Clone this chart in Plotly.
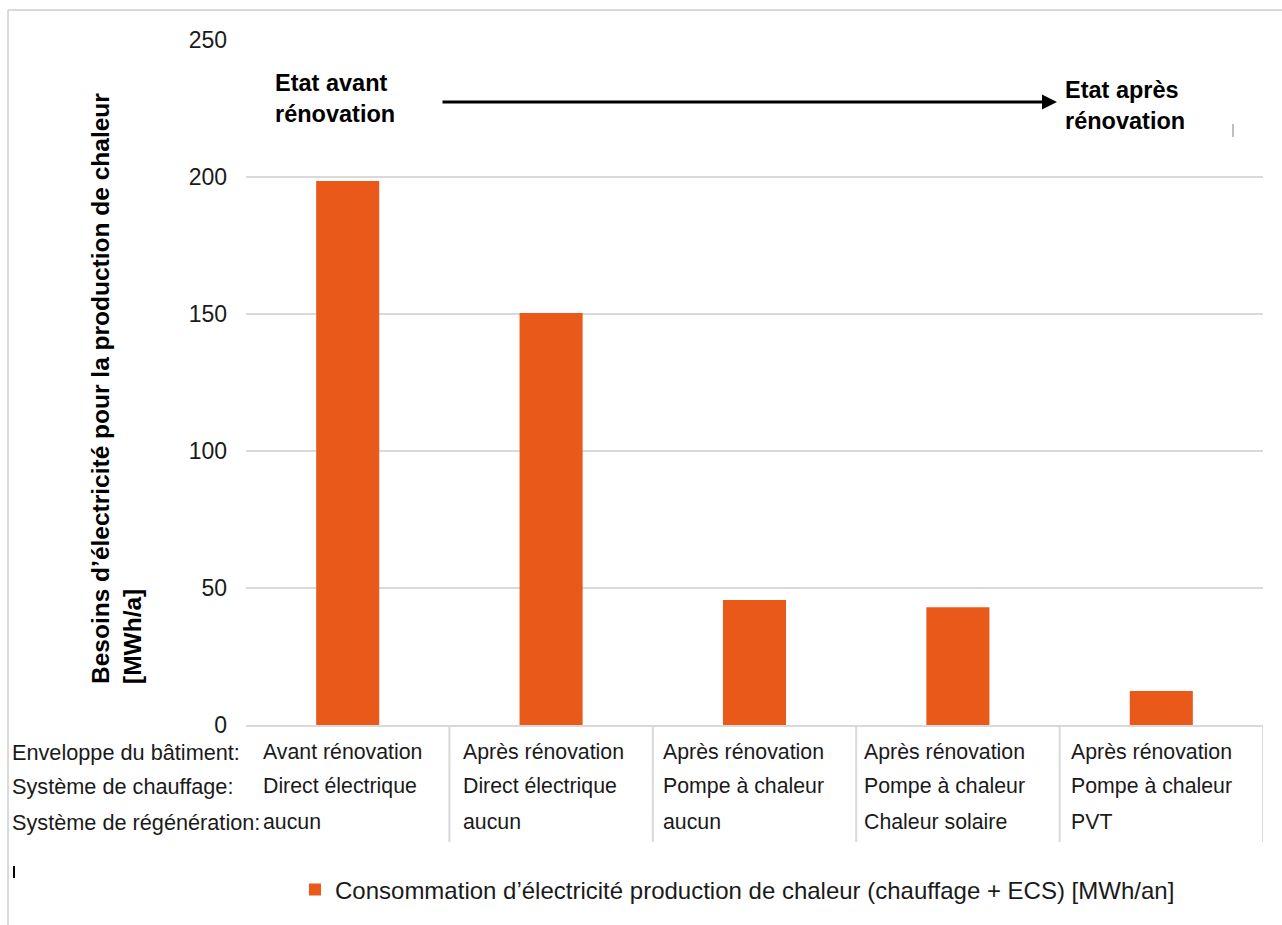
import plotly.graph_objects as go

# ---- data ----
scenarios = ["S1", "S2", "S3", "S4", "S5"]
consumption = [198.5, 150.4, 45.6, 43.0, 12.4]
row_labels = ["Enveloppe du bâtiment:", "Système de chauffage:", "Système de régénération:"]
enveloppe = ["Avant rénovation", "Après rénovation", "Après rénovation", "Après rénovation", "Après rénovation"]
chauffage = ["Direct électrique", "Direct électrique", "Pompe à chaleur", "Pompe à chaleur", "Pompe à chaleur"]
regeneration = ["aucun", "aucun", "aucun", "Chaleur solaire", "PVT"]
y_ticks = [0, 50, 100, 150, 200, 250]
series_name = "Consommation d’électricité production de chaleur (chauffage + ECS) [MWh/an]"
y_title = "Besoins d’électricité pour la production de chaleur<br>[MWh/a]"

ORANGE = "#E8591A"
GRID = "#D9D9D9"
TXT = "#1a1a1a"
FONT = "Liberation Sans, Arial, sans-serif"

W, H = 1282, 925
L, R, T, B = 246, 19, 40, 200
PW, PH = W - L - R, H - T - B

def px_x(p):
    return (p - L) / PW

def px_y(p):
    return (H - B - p) / PH

xs = list(range(len(scenarios)))

fig = go.Figure()
fig.add_trace(go.Bar(
    x=xs, y=consumption, width=0.31, name=series_name,
    marker=dict(color=ORANGE, line=dict(width=0)),
    showlegend=True,
))

ann = []
# y title (rotated)
ann.append(dict(text="<b>" + y_title.replace("<br>", "</b><br><b>") + "</b>",
                xref="paper", yref="paper", x=px_x(116), y=px_y(389),
                xanchor="center", yanchor="middle", textangle=-90, align="left",
                showarrow=False, font=dict(size=24.5, color="#000", family=FONT)))
# top labels
ann.append(dict(text="<b>Etat avant</b><br><b>rénovation</b>", xref="paper", yref="paper",
                x=px_x(273), y=px_y(99), xanchor="left", yanchor="middle", align="left",
                showarrow=False, font=dict(size=23.5, color="#000", family=FONT)))
ann.append(dict(text="<b>Etat après</b><br><b>rénovation</b>", xref="paper", yref="paper",
                x=px_x(1063), y=px_y(105), xanchor="left", yanchor="middle", align="left",
                showarrow=False, font=dict(size=23.5, color="#000", family=FONT)))
# arrow
ann.append(dict(text="", xref="paper", yref="paper", axref="pixel", ayref="pixel",
                x=px_x(1057), y=px_y(102), ax=-(1057 - 441), ay=0,
                showarrow=True, arrowhead=2, arrowsize=1, arrowwidth=3, arrowcolor="#000",
                standoff=0, startstandoff=0))

# table
row_y = [752, 786, 822]
col_left_px = [261, 461, 661, 862, 1069]
rows = [enveloppe, chauffage, regeneration]
for r, lab in enumerate(row_labels):
    ann.append(dict(text=lab, xref="paper", yref="paper", x=px_x(10), y=px_y(row_y[r]),
                    xanchor="left", yanchor="middle", showarrow=False,
                    font=dict(size=21.7, color=TXT, family=FONT)))
    for i, v in enumerate(rows[r]):
        ann.append(dict(text=v, xref="paper", yref="paper", x=px_x(col_left_px[i]), y=px_y(row_y[r]),
                        xanchor="left", yanchor="middle", showarrow=False,
                        font=dict(size=21.3, color=TXT, family=FONT)))

shapes = []
for i in xs:
    shapes.append(dict(type="line", xref="x", yref="paper", x0=i + 0.5, x1=i + 0.5,
                       y0=0, y1=px_y(842), line=dict(color=GRID, width=2), layer="below"))
# outer frame
shapes.append(dict(type="line", xref="paper", yref="paper", x0=px_x(8), x1=px_x(1290),
                   y0=px_y(10), y1=px_y(10), line=dict(color=GRID, width=2)))
shapes.append(dict(type="line", xref="paper", yref="paper", x0=px_x(8), x1=px_x(8),
                   y0=px_y(10), y1=px_y(935), line=dict(color=GRID, width=2)))
# small cursor marks
shapes.append(dict(type="line", xref="paper", yref="paper", x0=px_x(1233), x1=px_x(1233),
                   y0=px_y(124), y1=px_y(137), line=dict(color="#808080", width=1)))
shapes.append(dict(type="line", xref="paper", yref="paper", x0=px_x(14), x1=px_x(14),
                   y0=px_y(866), y1=px_y(878), line=dict(color="#000", width=2)))

fig.update_layout(
    width=W, height=H, autosize=False,
    margin=dict(l=L, r=R, t=T, b=B),
    paper_bgcolor="white", plot_bgcolor="white",
    font=dict(family=FONT, color=TXT),
    xaxis=dict(range=[-0.5, 4.5], showticklabels=False, showgrid=False, zeroline=False,
               showline=True, linecolor=GRID, linewidth=2, ticks="", fixedrange=True),
    yaxis=dict(range=[0, 250], tickvals=y_ticks, showgrid=True, gridcolor=GRID, gridwidth=2,
               zeroline=False, showline=False, ticks="", ticklabelstandoff=18,
               tickfont=dict(size=23, color=TXT, family=FONT)),
    legend=dict(orientation="h", x=px_x(295), xanchor="left", y=px_y(890), yanchor="middle",
                font=dict(size=24, color=TXT, family=FONT), bgcolor="rgba(0,0,0,0)"),
    annotations=ann, shapes=shapes, bargap=0.69,
)

fig.write_html("out.html")
